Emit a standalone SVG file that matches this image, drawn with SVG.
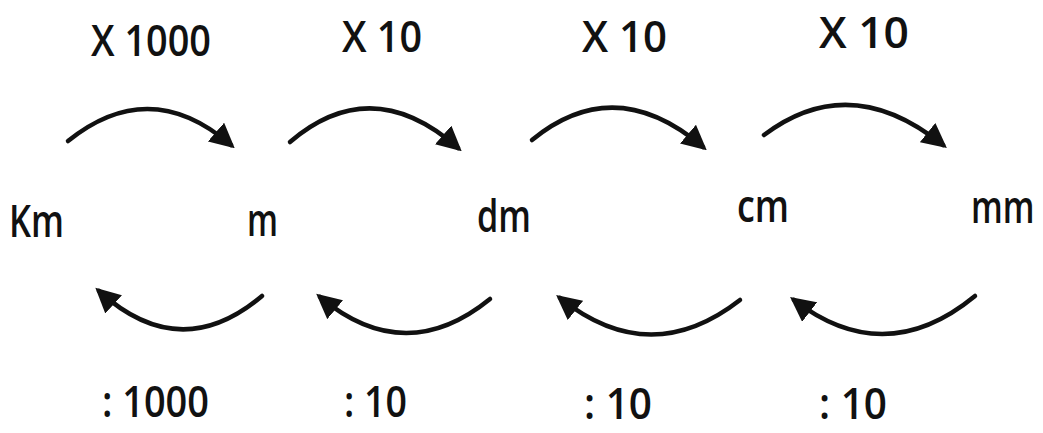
<svg xmlns="http://www.w3.org/2000/svg" width="1043" height="433" viewBox="0 0 1043 433">
<style>
text{font-family:"Open Sans","DejaVu Sans",sans-serif;fill:#111;font-weight:600}
.op{font-size:44px}
.u{font-size:45px}
.arc{fill:none;stroke:#111;stroke-width:4.5;stroke-linecap:round}
</style>
<defs>
<marker id="ah" viewBox="0 0 10 10" refX="8" refY="5" markerWidth="5.5" markerHeight="5.5" orient="auto" markerUnits="strokeWidth">
<path d="M0,0 L10,5 L0,10 z" fill="#111"/>
</marker>
</defs>
<rect width="1043" height="433" fill="#fff"/>
<g id="labels-top">
<text class="op" x="91" y="56" textLength="120" lengthAdjust="spacingAndGlyphs">X 1000</text>
<text class="op" x="342" y="52" textLength="80" lengthAdjust="spacingAndGlyphs">X 10</text>
<text class="op" x="582" y="52" textLength="85" lengthAdjust="spacingAndGlyphs">X 10</text>
<text class="op" x="819" y="48" textLength="90" lengthAdjust="spacingAndGlyphs">X 10</text>
</g>
<g id="node-km"><text class="u" x="9" y="237" textLength="55" lengthAdjust="spacingAndGlyphs">Km</text></g>
<g id="node-m"><text class="u" x="247" y="236" textLength="31" lengthAdjust="spacingAndGlyphs">m</text></g>
<g id="node-dm"><text class="u" x="477" y="232" textLength="54" lengthAdjust="spacingAndGlyphs">dm</text></g>
<g id="node-cm"><text class="u" x="737" y="222" textLength="52" lengthAdjust="spacingAndGlyphs">cm</text></g>
<g id="node-mm" transform="translate(971,223) scale(0.74,1)"><text class="u" x="0" y="0">mm</text></g>
<g id="labels-bottom">
<text class="op" x="102" y="417" textLength="107" lengthAdjust="spacingAndGlyphs">: 1000</text>
<text class="op" x="344" y="417" textLength="63" lengthAdjust="spacingAndGlyphs">: 10</text>
<text class="op" x="584" y="419" textLength="68" lengthAdjust="spacingAndGlyphs">: 10</text>
<text class="op" x="819" y="419" textLength="68" lengthAdjust="spacingAndGlyphs">: 10</text>
</g>
<g id="connectors">
<path class="arc" marker-end="url(#ah)" d="M68,141 Q150,75 231,145"/>
<path class="arc" marker-end="url(#ah)" d="M290,142 Q372,72 458,148"/>
<path class="arc" marker-end="url(#ah)" d="M532,140 Q615,72 703,147"/>
<path class="arc" marker-end="url(#ah)" d="M764,135 Q850,70 943,145"/>
<path class="arc" marker-end="url(#ah)" d="M262,296 Q180,365 99,291"/>
<path class="arc" marker-end="url(#ah)" d="M490,299 Q405,368 320,297"/>
<path class="arc" marker-end="url(#ah)" d="M740,300 Q650,370 560,298"/>
<path class="arc" marker-end="url(#ah)" d="M975,296 Q885,370 794,300"/>
</g>
</svg>
